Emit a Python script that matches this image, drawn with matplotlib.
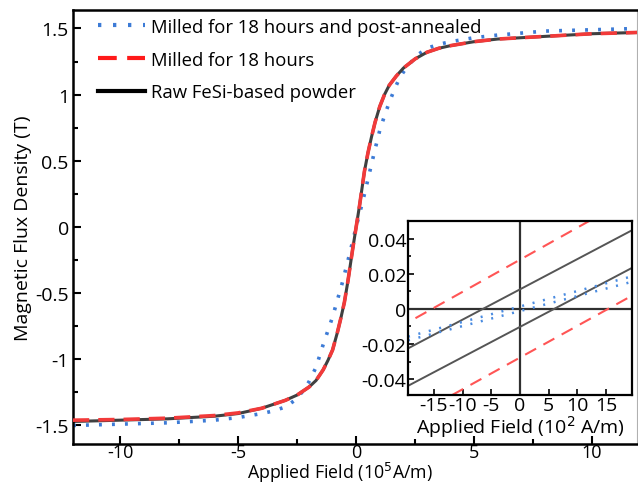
import numpy as np
import matplotlib
matplotlib.use("Agg")
import matplotlib.pyplot as plt
from matplotlib.ticker import MultipleLocator

plt.rcParams['font.family'] = ['Open Sans', 'DejaVu Sans']

# main loop, field in 10^5 A/m, flux density in T
raw_H = [-12, -10, -8, -6, -5, -4, -3.5, -3, -2.5, -2, -1.7, -1.4, -1.2, -1.0, -0.8, -0.65, -0.5, -0.35, -0.15,
         0, 0.15, 0.35, 0.5, 0.65, 0.8, 1.0, 1.2, 1.4, 1.7, 2.0, 2.5, 3.0, 3.5, 4.0, 5.0, 6.0, 8, 10, 12]
raw_B = [-1.47, -1.46, -1.45, -1.43, -1.41, -1.37, -1.34, -1.31, -1.27, -1.21, -1.16, -1.08, -1.01, -0.93, -0.80,
         -0.69, -0.57, -0.41, -0.17,
         0.0, 0.17, 0.42, 0.56, 0.68, 0.79, 0.91, 1.00, 1.07, 1.14, 1.20, 1.27, 1.32, 1.35, 1.37, 1.40, 1.42, 1.44,
         1.46, 1.47]

milled_H = raw_H
milled_B = [-1.46, -1.455, -1.445, -1.425, -1.405, -1.37, -1.34, -1.31, -1.27, -1.21, -1.16, -1.08, -1.01, -0.93,
            -0.80, -0.69, -0.57, -0.41, -0.17,
            0.0, 0.17, 0.42, 0.56, 0.68, 0.79, 0.91, 1.00, 1.07, 1.14, 1.20, 1.27, 1.32, 1.35, 1.37, 1.40, 1.42,
            1.44, 1.46, 1.47]

annealed_H = [-12, -10, -8, -6, -5, -4, -3.5, -3, -2.6, -2.3, -2, -1.7, -1.4, -1.0, -0.6, -0.3,
              0, 0.3, 0.5, 0.75, 1.0, 1.2, 1.4, 1.6, 1.8, 2.0, 2.3, 2.6, 3.0, 3.5, 4, 5, 6, 8, 10, 12]
annealed_B = [-1.50, -1.49, -1.48, -1.46, -1.44, -1.41, -1.39, -1.36, -1.31, -1.25, -1.17, -1.06, -0.89, -0.68,
              -0.43, -0.22,
              0.0, 0.21, 0.36, 0.55, 0.73, 0.84, 0.94, 1.03, 1.11, 1.17, 1.24, 1.30, 1.35, 1.38, 1.40, 1.43, 1.45,
              1.48, 1.49, 1.50]

# inset, field in 10^2 A/m, end points of each branch near the origin
ins_raw_H = [-19.5, 19.5]
ins_raw_up = [-0.0225, 0.0447]
ins_raw_dn = [-0.0438, 0.0233]
ins_mil_up_H = [-18.2, 12.0]
ins_mil_up = [-0.0053, 0.0499]
ins_mil_dn_H = [-11.8, 19.5]
ins_mil_dn = [-0.049, 0.0075]
ins_ann_up = [-0.0158, 0.0185]
ins_ann_dn = [-0.0179, 0.0154]

labels = ['Milled for 18 hours and post-annealed', 'Milled for 18 hours', 'Raw FeSi-based powder']
c_blue = '#3d7bd6'
c_red = '#f23a3a'
c_black = '#404040'
fs = 14

fig = plt.figure(figsize=(6.38, 4.85), dpi=100)
ax = fig.add_axes([0.1144, 0.0825, 0.884, 0.895])

ax.plot(annealed_H, annealed_B, color=c_blue, lw=2.6, ls=(0, (0.8, 2.8)), label=labels[0])
ax.plot(milled_H, milled_B, color=c_red, lw=2.6, ls=(0, (4.5, 2.5)), label=labels[1], zorder=3)
ax.plot(raw_H, raw_B, color=c_black, lw=2.2, label=labels[2], zorder=2)

ax.set_xlim(-12.0, 11.9)
ax.set_ylim(-1.64, 1.64)
ax.xaxis.set_minor_locator(MultipleLocator(2.5))
ax.yaxis.set_minor_locator(MultipleLocator(0.25))
ax.set_yticks([-1.5, -1, -0.5, 0, 0.5, 1, 1.5])
ax.set_yticklabels(['-1.5', '-1', '-0.5', '0', '0.5', '1', '1.5'])
ax.set_xticks([-10, -5, 0, 5, 10])
ax.set_xticklabels(['-10', '-5', '0', '5', '10'])
ax.tick_params(which='both', direction='in', labelsize=fs, width=1.5)
ax.tick_params(which='major', length=6, pad=3)
ax.tick_params(which='minor', length=3.5)
ax.tick_params(axis='x', pad=-1, labelsize=13)
for s in ['left', 'bottom', 'top']:
    ax.spines[s].set_linewidth(1.8)
ax.spines['right'].set_color('#b0b0b0')
ax.spines['right'].set_linewidth(0.8)
ax.set_ylabel('Magnetic Flux Density (T)', fontsize=fs, labelpad=2)
fig.text(340 / 638, 1 - 479.5 / 485, 'Applied Field (10$^5$A/m)', fontsize=12.8, ha='center', va='baseline')

leg = ax.legend(loc='upper left', bbox_to_anchor=(0.045, 0.982), frameon=False, fontsize=13.3,
                handlelength=2.55, handletextpad=0.3, labelspacing=0.8, borderaxespad=0, borderpad=0)
for h in leg.get_lines():
    h.set_linewidth(3)
leg.get_lines()[2].set_color('black')
leg.get_lines()[1].set_color('#ff1a1a')

# inset
ins = fig.add_axes([0.6395, 0.1835, 0.351, 0.3588])
ins.axhline(0, color='#303030', lw=1.6)
ins.axvline(0, color='#303030', lw=1.6)
ins.plot(ins_raw_H, ins_raw_up, color='#555555', lw=1.4)
ins.plot(ins_raw_H, ins_raw_dn, color='#555555', lw=1.4)
ins.plot(ins_mil_up_H, ins_mil_up, color='#ff5555', lw=1.5, ls=(0, (6, 4)))
ins.plot(ins_mil_dn_H, ins_mil_dn, color='#ff5555', lw=1.5, ls=(0, (6, 4)))
ins.plot(ins_raw_H, ins_ann_up, color='#4a8be0', lw=1.8, ls=(0, (0.8, 3.5)))
ins.plot(ins_raw_H, ins_ann_dn, color='#4a8be0', lw=1.8, ls=(0, (0.8, 3.5)))
ins.set_xlim(-19.5, 19.5)
ins.set_ylim(-0.049, 0.05)
ins.set_xticks([-15, -10, -5, 0, 5, 10, 15])
ins.set_xticklabels(['-15', '-10', '-5', '0', '5', '10', '15'])
ins.set_yticks([-0.04, -0.02, 0, 0.02, 0.04])
ins.set_yticklabels(['-0.04', '-0.02', '0', '0.02', '0.04'])
ins.yaxis.set_minor_locator(MultipleLocator(0.01))
ins.tick_params(which='both', direction='in', labelsize=fs, width=1.2)
ins.tick_params(which='major', length=4, pad=1)
ins.tick_params(which='minor', length=2.5)
for s in ins.spines.values():
    s.set_linewidth(1.6)
ins.set_xlabel('Applied Field (10$^2$ A/m)', fontsize=fs, labelpad=-1)

fig.savefig('out.png', dpi=100)
